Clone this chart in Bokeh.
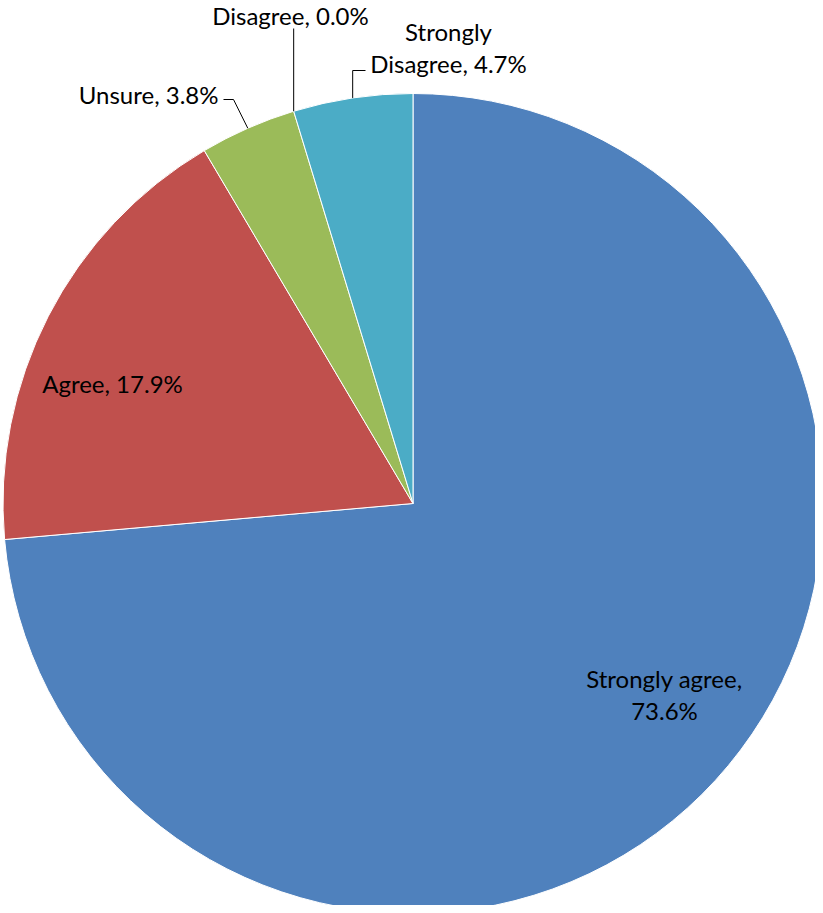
import math
from bokeh.plotting import figure
from bokeh.models import Range1d, ColumnDataSource
from bokeh.core.properties import value
from bokeh.embed import file_html
from bokeh.resources import INLINE

# ---- data ----
categories = ["Strongly agree", "Agree", "Unsure", "Disagree", "Strongly Disagree"]
percents = [73.6, 17.9, 3.8, 0.0, 4.7]
colors = ["#4F81BD", "#C0504D", "#9BBB59", "#8064A2", "#4BACC6"]

# ---- layout (pixel space, y down) ----
W, H = 815, 905
OFF = 0
def px(xi):
    return xi - OFF
def py(yi):
    return H - (yi - OFF)

CX, CY = px(412.5), py(503)
R = 410.0
FONT = "Lato"
FS = "24px"

p = figure(width=W, height=H, output_backend="svg", toolbar_location=None,
           x_range=Range1d(0, W), y_range=Range1d(0, H), min_border=0)
p.axis.visible = False
p.grid.visible = False
p.outline_line_color = None
p.background_fill_color = "white"
p.border_fill_color = "white"

# wedges, clockwise from 12 o'clock
starts, ends, mids = [], [], []
a = 90.0
for v in percents:
    sweep = v / 100.0 * 360.0
    starts.append(a)
    ends.append(a - sweep)
    mids.append(a - sweep / 2)
    a -= sweep

keep = [i for i, v in enumerate(percents) if v > 0]
src = ColumnDataSource(dict(
    start=[math.radians(starts[i]) for i in keep],
    end=[math.radians(ends[i]) for i in keep],
    color=[colors[i] for i in keep],
))
p.wedge(x=CX, y=CY, radius=R, start_angle="start", end_angle="end",
        direction="clock", fill_color="color", line_color="white",
        line_width=1, source=src)

def edge(angle_deg):
    t = math.radians(angle_deg)
    return CX + R * math.cos(t), CY + R * math.sin(t)

def label(lines, xi, yi, align="center", spacing=32):
    for k, t in enumerate(lines):
        p.text(x=[px(xi)], y=[py(yi + k * spacing)], text=[t],
               text_font=value(FONT), text_font_size=FS, text_color="#000000",
               text_align=align, text_baseline="middle")

def fmt(i):
    return f"{categories[i]}, {percents[i]:.1f}%"

# inside labels
label(["Strongly agree,", f"{percents[0]:.1f}%"], 664, 678)
label([fmt(1)], 112, 383)

# leader lines + outside labels
ex, ey = edge(mids[2])
p.line(x=[ex, px(233), px(223)], y=[ey, py(99), py(99)], line_color="black", line_width=1)
label([fmt(2)], 218, 94, align="right")

ex, ey = edge(starts[3])
p.line(x=[ex, ex], y=[ey, py(28)], line_color="black", line_width=1)
label([fmt(3)], 290, 15)

ex, ey = edge(mids[4])
p.line(x=[ex, ex, px(365)], y=[ey, py(70), py(70)], line_color="black", line_width=1)
label(["Strongly", f"Disagree, {percents[4]:.1f}%"], 448, 31)

open("out.html", "w").write(file_html(p, INLINE))
